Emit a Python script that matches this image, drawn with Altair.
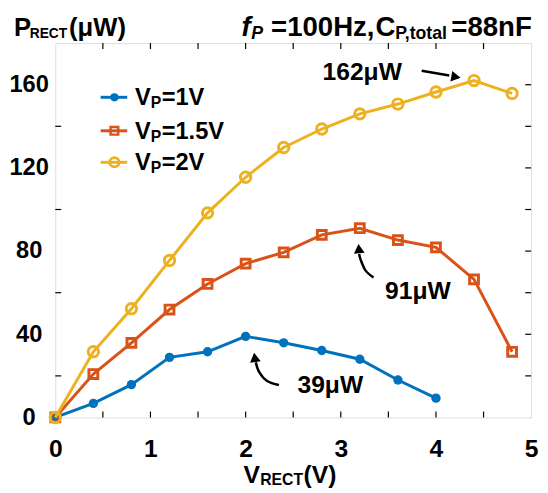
import altair as alt
import pandas as pd

# ---- data ----
v_rect = [0, 0.4, 0.8, 1.2, 1.6, 2.0, 2.4, 2.8, 3.2, 3.6, 4.0, 4.4, 4.8]
p_vp1 = [0, 6.8, 15.8, 28.9, 31.6, 39, 35.9, 32.2, 28, 18, 9.3]
p_vp15 = [0, 20.9, 35.9, 51.9, 64.2, 74, 79.4, 87.8, 91, 85.3, 81.8, 66.4, 31.6]
p_vp2 = [0, 31.6, 52.3, 75.5, 98.4, 115.5, 129.8, 138.7, 146, 150.7, 156.5, 162, 155.8]

x_label_vals = [0, 1, 2, 3, 4, 5]
y_label_vals = [0, 40, 80, 120, 160]
x_tick_vals = [0.5, 1, 1.5, 2, 2.5, 3, 3.5, 4, 4.5]
y_tick_left = [20, 60, 100, 140]
y_tick_right = [20, 40, 60, 80, 100, 120, 140, 160]

peak_labels = ["162μW", "91μW", "39μW"]
peak_label_x = [3.225, 3.81, 2.89]
peak_label_y = [162.5, 56.8, 11.8]

# arrow paths (data coordinates)
arrow162 = {"x": [3.85, 4.14], "y": [166.7, 164.4]}
arrow91 = {"x": [3.344, 3.261, 3.209, 3.193], "y": [67.3, 70.6, 75.8, 78.6]}
arrow39 = {"x": [2.35, 2.226, 2.143, 2.107], "y": [15.6, 17.5, 21.8, 26.5]}
head_x = [4.21, 3.19, 2.096]
head_y = [163.7, 81.2, 28.9]
head_shape = ["triangle-right", "triangle-up", "triangle-up"]
head_angle = [10, 355, 352]

series_names = ["VP=1V", "VP=1.5V", "VP=2V"]
series_vals = [p_vp1, p_vp15, p_vp2]
colors = ["#0072BD", "#D95319", "#EDB120"]

FONT = "Liberation Sans"
W, H = 483, 380

xs = alt.Scale(domain=[0, 5], nice=False, zero=True)
ys = alt.Scale(domain=[0, 180], nice=False, zero=True)

layers = []

base_axis_x = alt.X("x:Q", scale=xs, title=None,
                    axis=alt.Axis(values=x_label_vals, format="d", ticks=False, tickSize=0, domain=False,
                                  grid=False, labelPadding=40, labelBaseline="alphabetic", labelFontSize=25,
                                  labelFont=FONT, labelFontWeight="bold", labelColor="black",
                                  labelFlush=False, labelOverlap=False))
base_axis_y = alt.Y("y:Q", scale=ys, title=None,
                    axis=alt.Axis(values=y_label_vals, ticks=False, tickSize=0, domain=False,
                                  grid=False, labelPadding=27, labelFontSize=24, labelAlign="center",
                                  labelFont=FONT, labelFontWeight="bold", labelColor="black",
                                  labelFlush=False, labelOverlap=False))

# series
for name, vals, col, i in zip(series_names, series_vals, colors, range(3)):
    df = pd.DataFrame({"x": v_rect[:len(vals)], "y": vals})
    line = alt.Chart(df).mark_line(color=col, strokeWidth=3).encode(
        x=base_axis_x if i == 0 else alt.X("x:Q", scale=xs),
        y=base_axis_y if i == 0 else alt.Y("y:Q", scale=ys),
    )
    if i == 0:
        pts = alt.Chart(df).mark_point(shape="circle", filled=True, color=col, size=90, opacity=1).encode(
            x=alt.X("x:Q", scale=xs), y=alt.Y("y:Q", scale=ys))
    elif i == 1:
        pts = alt.Chart(df).mark_point(shape="square", filled=False, color=col, size=80,
                                       strokeWidth=3, opacity=1).encode(
            x=alt.X("x:Q", scale=xs), y=alt.Y("y:Q", scale=ys))
    else:
        pts = alt.Chart(df).mark_point(shape="circle", filled=False, color=col, size=110,
                                       strokeWidth=3, opacity=1).encode(
            x=alt.X("x:Q", scale=xs), y=alt.Y("y:Q", scale=ys))
    layers += [line, pts]

# inward ticks
tx = pd.DataFrame({"x": x_tick_vals})
layers.append(alt.Chart(tx).mark_rule(color="black", strokeWidth=1.2).encode(
    x=alt.X("x:Q", scale=xs), y=alt.value(H), y2=alt.value(H - 6)))
layers.append(alt.Chart(tx).mark_rule(color="black", strokeWidth=1.2).encode(
    x=alt.X("x:Q", scale=xs), y=alt.value(0), y2=alt.value(6)))
tyl = pd.DataFrame({"y": y_tick_left})
layers.append(alt.Chart(tyl).mark_rule(color="black", strokeWidth=1.2).encode(
    y=alt.Y("y:Q", scale=ys), x=alt.value(0), x2=alt.value(6)))
tyr = pd.DataFrame({"y": y_tick_right})
layers.append(alt.Chart(tyr).mark_rule(color="black", strokeWidth=1.2).encode(
    y=alt.Y("y:Q", scale=ys), x=alt.value(W), x2=alt.value(W - 6)))

# annotations
ann = pd.DataFrame({"x": peak_label_x, "y": peak_label_y, "t": peak_labels})
layers.append(alt.Chart(ann).mark_text(font=FONT, fontSize=25, fontWeight="bold", color="black",
                                       align="center", baseline="alphabetic").encode(
    x=alt.X("x:Q", scale=xs), y=alt.Y("y:Q", scale=ys), text="t:N"))
for arr in [arrow162, arrow91, arrow39]:
    adf = pd.DataFrame({"x": arr["x"], "y": arr["y"], "i": list(range(len(arr["x"])))})
    layers.append(alt.Chart(adf).mark_line(color="black", strokeWidth=2.5, interpolate="cardinal").encode(
        x=alt.X("x:Q", scale=xs), y=alt.Y("y:Q", scale=ys), order="i:Q"))
for hx, hy, hs, ha in zip(head_x, head_y, head_shape, head_angle):
    hdf = pd.DataFrame({"x": [hx], "y": [hy]})
    layers.append(alt.Chart(hdf).mark_point(shape=hs, angle=ha, filled=True, color="black",
                                            size=120, opacity=1).encode(
        x=alt.X("x:Q", scale=xs), y=alt.Y("y:Q", scale=ys)))

one = pd.DataFrame({"d": [0]})


def txt(s, px, py, size, italic=False):
    return alt.Chart(one).mark_text(text=s, font=FONT, fontSize=size, fontWeight="bold",
                                    fontStyle="italic" if italic else "normal", color="black",
                                    align="left", baseline="alphabetic").encode(
        x=alt.value(px), y=alt.value(py))


# legend (drawn by hand to allow subscripts)
leg_y = [55, 89, 121]
leg_base = [63, 97, 129]
leg_rest = ["=1V", "=1.5V", "=2V"]
for i in range(3):
    layers.append(alt.Chart(one).mark_rule(color=colors[i], strokeWidth=3).encode(
        x=alt.value(46), x2=alt.value(73), y=alt.value(leg_y[i])))
    if i == 0:
        m = alt.Chart(one).mark_point(shape="circle", filled=True, color=colors[i], size=70, opacity=1)
    elif i == 1:
        m = alt.Chart(one).mark_point(shape="square", filled=False, color=colors[i], size=60,
                                      strokeWidth=2.5, opacity=1)
    else:
        m = alt.Chart(one).mark_point(shape="circle", filled=False, color=colors[i], size=90,
                                      strokeWidth=2.8, opacity=1)
    layers.append(m.encode(x=alt.value(60), y=alt.value(leg_y[i])))
    layers.append(txt("V", 81, leg_base[i], 24))
    layers.append(txt("P", 97, leg_base[i] + 3, 16))
    layers.append(txt(leg_rest[i], 108, leg_base[i], 24))

# titles
layers.append(txt("P", -42, -7, 26))
layers.append(txt("RECT", -26, -5, 14))
layers.append(txt("(μW)", 14, -7, 26))
layers.append(txt("f", 189, -7, 28, italic=True))
layers.append(txt("P", 199, -4, 18, italic=True))
layers.append(txt("=100Hz,", 219, -7, 28))
layers.append(txt("C", 325, -7, 28))
layers.append(txt("P,total", 345, -4, 18))
layers.append(txt("=88nF", 402, -7, 28))
layers.append(txt("V", 191, 446, 25))
layers.append(txt("RECT", 208, 449, 16))
layers.append(txt("(V)", 252, 446, 25))

chart = alt.layer(*layers).properties(
    width=W, height=H,
    autosize=alt.AutoSizeParams(type="none"),
    padding={"left": 48, "top": 32, "right": 9, "bottom": 72},
).configure_view(stroke="black", strokeWidth=2).configure(background="white")

chart.save("out.html", embed_options={"renderer": "svg", "actions": False})
